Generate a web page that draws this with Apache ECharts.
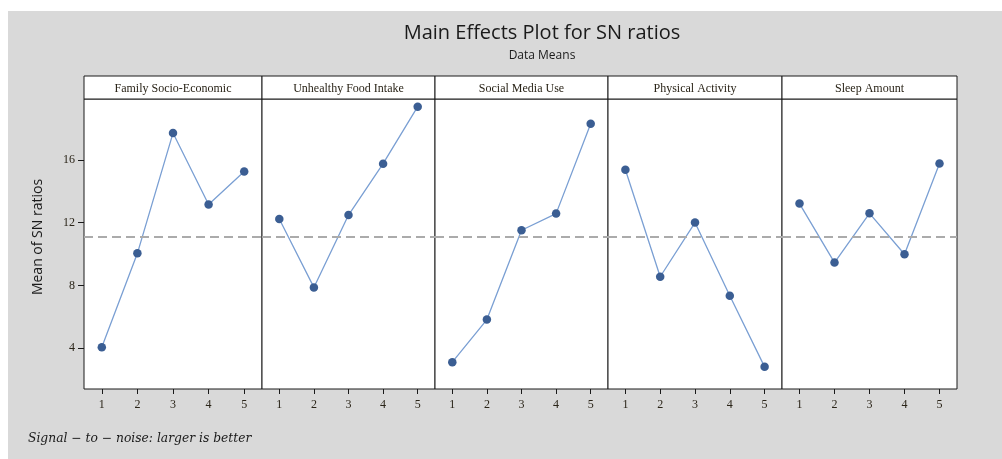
<!DOCTYPE html>
<html>
<head>
<meta charset="utf-8">
<script src="https://cdn.jsdelivr.net/npm/echarts@6/dist/echarts.min.js"></script>
<style>
  html, body { margin: 0; padding: 0; background: #ffffff; }
  #chart { width: 1002px; height: 459px; }
</style>
</head>
<body>
<div id="chart"></div>
<script>
// Factor names shown in the panel headers
const factors = ['Family Socio-Economic', 'Unhealthy Food Intake', 'Social Media Use', 'Physical Activity', 'Sleep Amount'];
// Factor levels on each x axis
const levels = [1, 2, 3, 4, 5];
// Mean SN ratio per level, one array per factor
const familySocioEconomic = [4.06, 10.04, 17.70, 13.15, 15.25];
const unhealthyFoodIntake = [12.23, 7.87, 12.48, 15.75, 19.38];
const socialMediaUse = [3.11, 5.82, 11.51, 12.57, 18.29];
const physicalActivity = [15.36, 8.55, 12.00, 7.34, 2.81];
const sleepAmount = [13.21, 9.45, 12.59, 9.98, 15.76];
// Shared y ticks and the overall mean reference line
const yTicks = [4, 8, 12, 16];
const overallMean = 11.11;

const seriesValues = [familySocioEconomic, unhealthyFoodIntake, socialMediaUse, physicalActivity, sleepAmount];

// Panel layout (pixels)
const panelEdges = [84, 262, 435, 608, 782, 957];
const headerTop = 76, plotTop = 99, plotBottom = 389;

const chart = echarts.init(document.getElementById('chart'), null, { renderer: 'canvas' });

const grids = [], xAxes = [], yAxes = [], series = [], graphics = [];

// Grey page background
graphics.push({
  type: 'rect', z: -10, silent: true,
  shape: { x: 8, y: 11, width: 994, height: 448 },
  style: { fill: '#d9d9d9' }
});

factors.forEach((name, i) => {
  const left = panelEdges[i], right = panelEdges[i + 1];
  grids.push({
    left: left, width: right - left, top: plotTop, height: plotBottom - plotTop,
    show: true, backgroundColor: '#ffffff', borderColor: '#1a1a1a', borderWidth: 1
  });
  xAxes.push({
    type: 'value', gridIndex: i, min: 0.5, max: 5.5,
    axisLine: { show: false },
    splitLine: { show: false },
    axisTick: { show: true, inside: false, length: 5, customValues: levels, lineStyle: { color: '#1a1a1a' } },
    axisLabel: { show: true, customValues: levels, margin: 10, fontFamily: 'Liberation Serif', fontSize: 12, color: '#2a2418' }
  });
  yAxes.push({
    type: 'value', gridIndex: i, min: 1.4, max: 19.87,
    axisLine: { show: false },
    splitLine: { show: false },
    axisTick: { show: i === 0, length: 6, customValues: yTicks, lineStyle: { color: '#1a1a1a' } },
    axisLabel: { show: i === 0, customValues: yTicks, margin: 9, fontFamily: 'Liberation Serif', fontSize: 12, color: '#2a2418' }
  });
  series.push({
    type: 'line', xAxisIndex: i, yAxisIndex: i,
    data: levels.map((lv, k) => [lv, seriesValues[i][k]]),
    symbol: 'circle', symbolSize: 8.5,
    lineStyle: { color: '#7a9fd3', width: 1.3 },
    itemStyle: { color: '#3b5e93' },
    emphasis: { disabled: true },
    markLine: {
      silent: true, symbol: 'none', label: { show: false },
      lineStyle: { color: '#ababab', type: [9, 5], width: 2 },
      data: [{ yAxis: overallMean }]
    },
    z: 3
  });
  // Header band with factor name
  graphics.push({
    type: 'rect', silent: true, z: 5,
    shape: { x: left, y: headerTop, width: right - left, height: plotTop - headerTop },
    style: { fill: '#ffffff', stroke: '#1a1a1a', lineWidth: 1 }
  });
  graphics.push({
    type: 'text', silent: true, z: 6,
    x: (left + right) / 2, y: (headerTop + plotTop) / 2 + 1,
    style: {
      text: name, fill: '#2a2418', font: '12px "Liberation Serif"',
      textAlign: 'center', textVerticalAlign: 'middle'
    }
  });
});

// Y axis name
graphics.push({
  type: 'text', silent: true,
  x: 38, y: 237, rotation: Math.PI / 2,
  style: {
    text: 'Mean of SN ratios', fill: '#1a1a1a', font: '14px "Open Sans"',
    textAlign: 'center', textVerticalAlign: 'middle'
  }
});
// Footnote
graphics.push({
  type: 'text', silent: true,
  x: 28, y: 439,
  style: {
    text: 'Signal \u2212 to \u2212 noise: larger is better', fill: '#1a1a1a',
    font: 'italic 12.3px "DejaVu Serif"', textAlign: 'left', textVerticalAlign: 'middle'
  }
});

chart.setOption({
  animation: false,
  backgroundColor: '#ffffff',
  title: {
    text: 'Main Effects Plot for SN ratios',
    subtext: 'Data Means',
    left: 537, top: 18, textAlign: 'center', itemGap: 7,
    textStyle: { fontFamily: 'Open Sans', fontSize: 20, fontWeight: 'normal', color: '#1a1a1a' },
    subtextStyle: { fontFamily: 'Open Sans', fontSize: 12, color: '#1a1a1a' }
  },
  grid: grids,
  xAxis: xAxes,
  yAxis: yAxes,
  series: series,
  graphic: graphics
});
</script>
</body>
</html>
